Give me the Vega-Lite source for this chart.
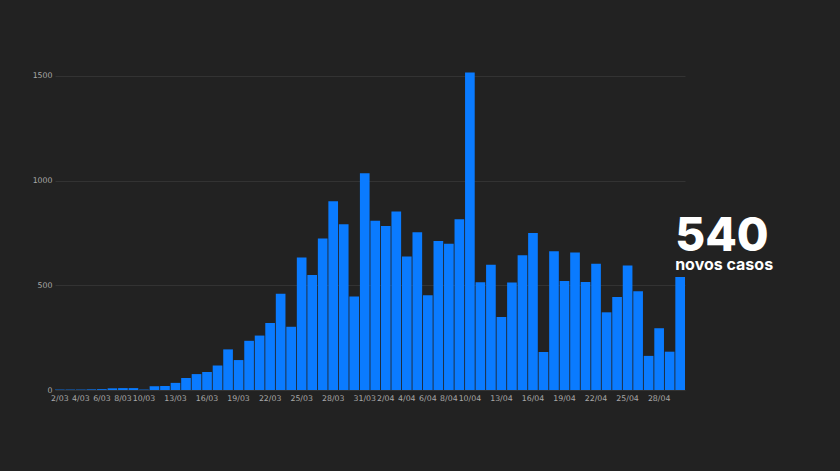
{
  "$schema": "https://vega.github.io/schema/vega-lite/v6.json",
  "autosize": "none",
  "width": 630,
  "height": 335,
  "padding": {"left": 55, "top": 55, "right": 155, "bottom": 81},
  "background": "#222222",
  "config": {
    "view": {"stroke": null},
    "font": "DejaVu Sans"
  },
  "data": {
    "values": [
      {"d": "2/03", "n": 2}, {"d": "3/03", "n": 2}, {"d": "4/03", "n": 2}, {"d": "5/03", "n": 3},
      {"d": "6/03", "n": 4}, {"d": "7/03", "n": 8}, {"d": "8/03", "n": 9}, {"d": "9/03", "n": 9},
      {"d": "10/03", "n": 2}, {"d": "11/03", "n": 18}, {"d": "12/03", "n": 19}, {"d": "13/03", "n": 34},
      {"d": "14/03", "n": 57}, {"d": "15/03", "n": 76}, {"d": "16/03", "n": 86}, {"d": "17/03", "n": 117},
      {"d": "18/03", "n": 194}, {"d": "19/03", "n": 143}, {"d": "20/03", "n": 235}, {"d": "21/03", "n": 260},
      {"d": "22/03", "n": 320}, {"d": "23/03", "n": 460}, {"d": "24/03", "n": 302}, {"d": "25/03", "n": 633},
      {"d": "26/03", "n": 549}, {"d": "27/03", "n": 724}, {"d": "28/03", "n": 902}, {"d": "29/03", "n": 792},
      {"d": "30/03", "n": 446}, {"d": "31/03", "n": 1035}, {"d": "1/04", "n": 808}, {"d": "2/04", "n": 783},
      {"d": "3/04", "n": 852}, {"d": "4/04", "n": 638}, {"d": "5/04", "n": 754}, {"d": "6/04", "n": 452},
      {"d": "7/04", "n": 712}, {"d": "8/04", "n": 699}, {"d": "9/04", "n": 815}, {"d": "10/04", "n": 1516},
      {"d": "11/04", "n": 515}, {"d": "12/04", "n": 598}, {"d": "13/04", "n": 349}, {"d": "14/04", "n": 514},
      {"d": "15/04", "n": 643}, {"d": "16/04", "n": 750}, {"d": "17/04", "n": 181}, {"d": "18/04", "n": 663},
      {"d": "19/04", "n": 521}, {"d": "20/04", "n": 657}, {"d": "21/04", "n": 516}, {"d": "22/04", "n": 603},
      {"d": "23/04", "n": 371}, {"d": "24/04", "n": 444}, {"d": "25/04", "n": 595}, {"d": "26/04", "n": 472},
      {"d": "27/04", "n": 163}, {"d": "28/04", "n": 295}, {"d": "29/04", "n": 183}, {"d": "30/04", "n": 540}
    ]
  },
  "encoding": {
    "x": {
      "field": "d", "type": "ordinal", "sort": null,
      "scale": {"paddingInner": 0.08, "paddingOuter": 0},
      "axis": {
        "title": null, "labelAngle": 0, "ticks": false, "domain": false,
        "labelColor": "#a8a8a8", "labelFontSize": 7.8, "labelFont": "DejaVu Sans", "labelPadding": 4,
        "labelOverlap": false,
        "values": ["2/03","4/03","6/03","8/03","10/03","13/03","16/03","19/03","22/03","25/03","28/03","31/03","2/04","4/04","6/04","8/04","10/04","13/04","16/04","19/04","22/04","25/04","28/04"]
      }
    },
    "y": {
      "field": "n", "type": "quantitative",
      "scale": {"domain": [0, 1600], "nice": false},
      "axis": {
        "title": null, "values": [0, 500, 1000, 1500], "format": "d", "ticks": false, "domain": false,
        "labelColor": "#a8a8a8", "labelFontSize": 7.8, "labelFont": "DejaVu Sans", "labelPadding": 3,
        "labelOverlap": false,
        "gridColor": "#333333", "gridWidth": 1
      }
    }
  },
  "layer": [
    {
      "mark": {"type": "bar", "color": "#0a7bff"}
    },
    {
      "transform": [{"filter": "datum.d == '30/04'"}],
      "mark": {"type": "text", "align": "left", "baseline": "alphabetic", "dx": -5, "dy": -26, "font": "Inter", "fontWeight": 800, "fontSize": 46, "color": "#ffffff"},
      "encoding": {"text": {"field": "n", "type": "quantitative"}}
    },
    {
      "transform": [{"filter": "datum.d == '30/04'"}],
      "mark": {"type": "text", "align": "left", "baseline": "alphabetic", "dx": -5, "dy": -7, "font": "Inter", "fontWeight": 700, "fontSize": 16, "color": "#ffffff", "text": "novos casos"}
    }
  ]
}
